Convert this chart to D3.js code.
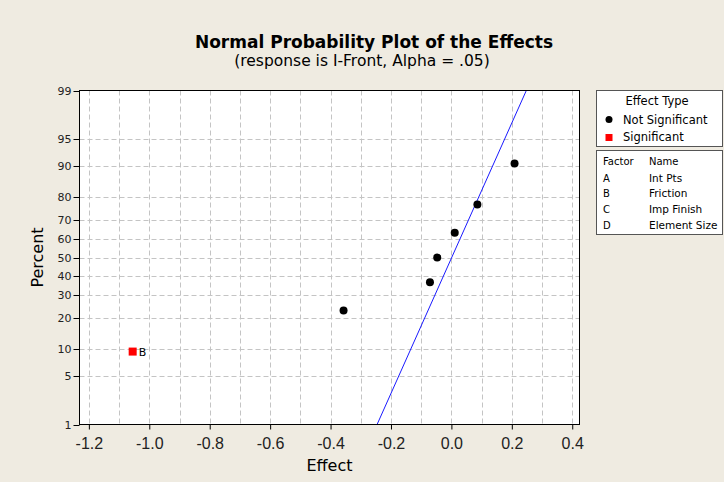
<!DOCTYPE html>
<html>
<head>
<meta charset="utf-8">
<script src="https://cdn.jsdelivr.net/npm/d3@7"></script>
<style>
  body { margin: 0; background: #efebe1; }
  svg { display: block; font-family: "DejaVu Sans", sans-serif; }
</style>
</head>
<body>
<div class="chart"></div>
<script>
// effects and their normal plotting percents
var effects = [-1.055, -0.357, -0.071, -0.047, 0.011, 0.086, 0.209];
var percents = [9.5, 23.0, 36.5, 50.0, 63.5, 77.0, 90.5];
var significant = [true, false, false, false, false, false, false];
var effectLabels = ["B", "", "", "", "", "", ""];

// fitted reference line, two ends
var lineEffect = [-0.246, 0.248];
var linePercent = [1, 99];

var xTicks = [-1.2, -1.0, -0.8, -0.6, -0.4, -0.2, 0.0, 0.2, 0.4];
var xGrid = [-1.2, -1.1, -1.0, -0.9, -0.8, -0.7, -0.6, -0.5, -0.4, -0.3, -0.2, -0.1, 0.0, 0.1, 0.2, 0.3, 0.4];
var yTicks = [1, 5, 10, 20, 30, 40, 50, 60, 70, 80, 90, 95, 99];

var factors = ["A", "B", "C", "D"];
var factorNames = ["Int Pts", "Friction", "Imp Finish", "Element Size"];

var svgWidth = 724;
var svgHeight = 482;

var plot = { left: 79.5, right: 579.5, top: 90.5, bottom: 424.5 };

var svg = d3.select(".chart")
  .append("svg")
  .attr("width", svgWidth)
  .attr("height", svgHeight);

svg.append("rect")
  .attr("width", svgWidth)
  .attr("height", svgHeight)
  .attr("fill", "#efebe1");

// inverse normal cdf (Acklam)
function probit(p) {
  var a = [-39.69683028665376, 220.9460984245205, -275.9285104469687, 138.3577518672690, -30.66479806614716, 2.506628277459239];
  var b = [-54.47609879822406, 161.5858368580409, -155.6989798598866, 66.80131188771972, -13.28068155288572];
  var c = [-0.007784894002430293, -0.3223964580411365, -2.400758277161838, -2.549732539343734, 4.374664141464968, 2.938163982698783];
  var d = [0.007784695709041462, 0.3224671290700398, 2.445134137142996, 3.754408661907416];
  var q, r;
  if (p < 0.02425) {
    q = Math.sqrt(-2 * Math.log(p));
    return (((((c[0]*q+c[1])*q+c[2])*q+c[3])*q+c[4])*q+c[5]) / ((((d[0]*q+d[1])*q+d[2])*q+d[3])*q+1);
  }
  if (p > 1 - 0.02425) {
    q = Math.sqrt(-2 * Math.log(1 - p));
    return -(((((c[0]*q+c[1])*q+c[2])*q+c[3])*q+c[4])*q+c[5]) / ((((d[0]*q+d[1])*q+d[2])*q+d[3])*q+1);
  }
  q = p - 0.5;
  r = q * q;
  return (((((a[0]*r+a[1])*r+a[2])*r+a[3])*r+a[4])*r+a[5])*q / (((((b[0]*r+b[1])*r+b[2])*r+b[3])*r+b[4])*r+1);
}

var xScale = d3.scaleLinear()
  .domain([-1.231, 0.424])
  .range([plot.left, plot.right]);

var zScale = d3.scaleLinear()
  .domain([probit(0.01), probit(0.99)])
  .range([plot.bottom, plot.top]);

var yScale = function(pct) { return zScale(probit(pct / 100)); };

// plot area
svg.append("rect")
  .attr("x", plot.left)
  .attr("y", plot.top)
  .attr("width", plot.right - plot.left)
  .attr("height", plot.bottom - plot.top)
  .attr("fill", "#ffffff");

// gridlines
svg.append("g").selectAll("line")
  .data(xGrid)
  .enter()
  .append("line")
  .attr("x1", d => Math.round(xScale(d)) + 0.5)
  .attr("x2", d => Math.round(xScale(d)) + 0.5)
  .attr("y1", plot.top)
  .attr("y2", plot.bottom)
  .attr("stroke", "#c4c4c4")
  .attr("stroke-dasharray", "5,3");

svg.append("g").selectAll("line")
  .data(yTicks.slice(1, -1))
  .enter()
  .append("line")
  .attr("x1", plot.left)
  .attr("x2", plot.right)
  .attr("y1", d => Math.round(yScale(d)) + 0.5)
  .attr("y2", d => Math.round(yScale(d)) + 0.5)
  .attr("stroke", "#c4c4c4")
  .attr("stroke-dasharray", "5,3");

// reference line
var refLine = d3.line()
  .x(d => xScale(d[0]))
  .y(d => yScale(d[1]));

svg.append("path")
  .datum(d3.zip(lineEffect, linePercent))
  .attr("d", refLine)
  .attr("fill", "none")
  .attr("stroke", "#1a1aff")
  .attr("stroke-width", 1);

svg.append("rect")
  .attr("x", plot.left)
  .attr("y", plot.top)
  .attr("width", plot.right - plot.left)
  .attr("height", plot.bottom - plot.top)
  .attr("fill", "none")
  .attr("stroke", "#000");

// x axis
var bottomAxis = d3.axisBottom(xScale)
  .tickValues(xTicks)
  .tickSize(5)
  .tickFormat(d => d3.format(".1f")(d).replace("−", "-"));

var xAxis = svg.append("g")
  .attr("transform", `translate(0, ${plot.bottom})`)
  .call(bottomAxis);
xAxis.select(".domain").remove();
xAxis.selectAll("text")
  .attr("y", 24)
  .attr("dy", null)
  .attr("fill", "#222")
  .style("font-family", "'Liberation Sans', Arial, sans-serif")
  .style("font-size", "16px");

// y axis (probability scale)
var yAxis = svg.append("g")
  .attr("transform", `translate(${plot.left}, 0)`);
yAxis.selectAll("g")
  .data(yTicks)
  .enter()
  .append("g")
  .attr("transform", d => `translate(0, ${Math.round(yScale(d)) + 0.5})`)
  .each(function(d) {
    var g = d3.select(this);
    g.append("line").attr("x1", -6).attr("x2", 0).attr("stroke", "#000");
    g.append("text")
      .attr("x", -8)
      .attr("dy", "0.35em")
      .attr("text-anchor", "end")
      .attr("fill", "#222")
      .style("font-size", "11px")
      .text(d);
  });

// axis labels
svg.append("text")
  .attr("transform", `translate(43, ${yScale(50)}) rotate(-90)`)
  .attr("text-anchor", "middle")
  .style("font-size", "16px")
  .text("Percent");

svg.append("text")
  .attr("x", (plot.left + plot.right) / 2)
  .attr("y", 471)
  .attr("text-anchor", "middle")
  .style("font-size", "16px")
  .text("Effect");

// titles
svg.append("text")
  .attr("x", 374)
  .attr("y", 48)
  .attr("text-anchor", "middle")
  .style("font-size", "17px")
  .style("font-weight", "bold")
  .text("Normal Probability Plot of the Effects");

svg.append("text")
  .attr("x", 362)
  .attr("y", 66)
  .attr("text-anchor", "middle")
  .style("font-size", "15.5px")
  .text("(response is I-Front, Alpha = .05)");

// points
var pts = d3.zip(effects, percents, significant, effectLabels);

svg.append("g").selectAll("circle")
  .data(pts.filter(d => !d[2]))
  .enter()
  .append("circle")
  .attr("cx", d => xScale(d[0]))
  .attr("cy", d => yScale(d[1]))
  .attr("r", 4)
  .attr("fill", "#000");

svg.append("g").selectAll("rect")
  .data(pts.filter(d => d[2]))
  .enter()
  .append("rect")
  .attr("x", d => xScale(d[0]) - 4)
  .attr("y", d => yScale(d[1]) - 4)
  .attr("width", 8)
  .attr("height", 8)
  .attr("fill", "#ff0000");

svg.append("g").selectAll("text")
  .data(pts.filter(d => d[3] !== ""))
  .enter()
  .append("text")
  .attr("x", d => xScale(d[0]) + 6)
  .attr("y", d => yScale(d[1]) + 4)
  .style("font-size", "11px")
  .text(d => d[3]);

// legend: effect type
var lg = svg.append("g");
lg.append("rect")
  .attr("x", 596.5).attr("y", 90.5)
  .attr("width", 126).attr("height", 56)
  .attr("fill", "#fff").attr("stroke", "#555");
lg.append("text")
  .attr("x", 657).attr("y", 105)
  .attr("text-anchor", "middle")
  .style("font-size", "11.5px")
  .text("Effect Type");
lg.append("circle")
  .attr("cx", 609).attr("cy", 119.5).attr("r", 3.5).attr("fill", "#000");
lg.append("text")
  .attr("x", 623).attr("y", 123.5)
  .style("font-size", "11.5px")
  .text("Not Significant");
lg.append("rect")
  .attr("x", 605.5).attr("y", 134).attr("width", 7).attr("height", 7).attr("fill", "#ff0000");
lg.append("text")
  .attr("x", 623).attr("y", 141)
  .style("font-size", "11.5px")
  .text("Significant");

// legend: factor names
var fg = svg.append("g");
fg.append("rect")
  .attr("x", 596.5).attr("y", 150.5)
  .attr("width", 126).attr("height", 84)
  .attr("fill", "#fff").attr("stroke", "#555");
fg.append("text")
  .attr("x", 603).attr("y", 165)
  .style("font-size", "10px")
  .text("Factor");
fg.append("text")
  .attr("x", 649).attr("y", 165)
  .style("font-size", "10px")
  .text("Name");
fg.selectAll(".fac")
  .data(factors)
  .enter()
  .append("text")
  .attr("class", "fac")
  .attr("x", 603)
  .attr("y", (d, i) => 181.5 + i * 15.8)
  .style("font-size", "10px")
  .text(d => d);
fg.selectAll(".fname")
  .data(factorNames)
  .enter()
  .append("text")
  .attr("class", "fname")
  .attr("x", 649)
  .attr("y", (d, i) => 181.5 + i * 15.8)
  .style("font-size", "10.5px")
  .text(d => d);
</script>
</body>
</html>
